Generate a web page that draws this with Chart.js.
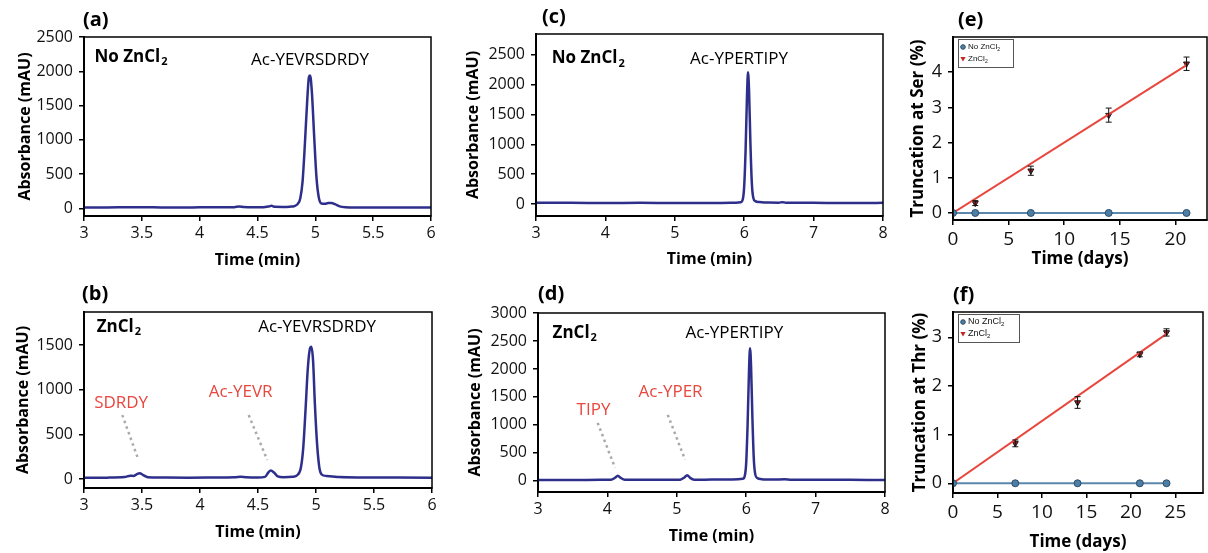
<!DOCTYPE html>
<html>
<head>
<meta charset="utf-8">
<script src="https://cdn.jsdelivr.net/npm/chart.js@4.4.1/dist/chart.umd.min.js"></script>
<style>
  body { margin: 0; background: #fff; width: 1208px; height: 553px; position: relative; overflow: hidden; }
  canvas { position: absolute; }
</style>
</head>
<body>
<canvas id="pa" width="440" height="275" style="left:0;top:0"></canvas>
<canvas id="pb" width="440" height="273" style="left:0;top:280px"></canvas>
<canvas id="pc" width="450" height="275" style="left:440px;top:0"></canvas>
<canvas id="pd" width="450" height="273" style="left:440px;top:280px"></canvas>
<canvas id="pe" width="322" height="275" style="left:890px;top:0"></canvas>
<canvas id="pf" width="318" height="273" style="left:890px;top:280px"></canvas>
<script>
// ---- (a) Ac-YEVRSDRDY, no ZnCl2 ----
const timeA = [3.00, 3.20, 3.40, 3.60, 3.80, 4.00, 4.20, 4.30, 4.34, 4.38, 4.45, 4.55, 4.60, 4.62, 4.65, 4.72, 4.78, 4.82, 4.85, 4.87,
  4.89, 4.91, 4.93, 4.945, 4.955, 4.97, 4.99, 5.01, 5.03, 5.05, 5.08, 5.11, 5.14, 5.17, 5.21, 5.26, 5.35, 5.50, 5.70, 6.00];
const absA = [15, 15, 17, 16, 15, 16, 17, 19, 28, 22, 18, 18, 30, 38, 24, 22, 26, 35, 70, 150,
  400, 950, 1580, 1920, 1940, 1700, 1050, 450, 160, 75, 68, 78, 80, 62, 30, 18, 15, 15, 14, 14];

// ---- (b) Ac-YEVRSDRDY, ZnCl2 ----
const timeB = [3.00, 3.20, 3.35, 3.40, 3.43, 3.46, 3.48, 3.51, 3.55, 3.65, 3.90, 4.10, 4.30, 4.35, 4.40, 4.50, 4.56, 4.59, 4.61, 4.64,
  4.67, 4.72, 4.80, 4.84, 4.87, 4.89, 4.91, 4.93, 4.95, 4.96, 4.975, 4.99, 5.01, 5.03, 5.05, 5.09, 5.14, 5.20, 5.40, 5.70, 6.00];
const absB = [15, 16, 22, 38, 35, 58, 65, 45, 20, 17, 16, 17, 20, 26, 20, 18, 25, 75, 95, 70,
  30, 20, 25, 45, 130, 350, 780, 1250, 1470, 1480, 1320, 850, 380, 120, 50, 35, 30, 22, 18, 17, 16];

// ---- (c) Ac-YPERTIPY, no ZnCl2 ----
const timeC = [3.00, 3.50, 4.00, 4.50, 5.00, 5.50, 5.80, 5.95, 5.98, 6.00, 6.02, 6.04, 6.055, 6.07, 6.09, 6.11, 6.13, 6.16, 6.22, 6.35,
  6.50, 6.55, 6.60, 7.00, 7.50, 8.00];
const absC = [20, 20, 18, 20, 18, 19, 20, 30, 80, 300, 900, 1800, 2210, 1900, 1000, 350, 110, 50, 35, 25,
  24, 32, 24, 20, 19, 20];

// ---- (d) Ac-YPERTIPY, ZnCl2 ----
const timeD = [3.00, 3.50, 3.90, 4.05, 4.11, 4.15, 4.19, 4.25, 4.50, 4.80, 5.05, 5.11, 5.15, 5.19, 5.25, 5.50, 5.80, 5.95, 5.98, 6.00,
  6.02, 6.04, 6.055, 6.07, 6.09, 6.11, 6.13, 6.16, 6.22, 6.40, 6.55, 6.65, 7.00, 7.50, 8.00];
const absD = [15, 16, 17, 20, 55, 92, 55, 20, 17, 18, 20, 60, 100, 55, 20, 22, 25, 35, 90, 320,
  1000, 1950, 2370, 2050, 1100, 380, 120, 50, 30, 22, 28, 20, 18, 17, 16];

// dotted leader lines from fragment labels to their peaks: [x0, y0, x1, y1]
const leaderSDRDY = [3.33, 716, 3.47, 213];
const leaderYEVR = [4.42, 716, 4.58, 213];
const leaderTIPY = [3.86, 1036, 4.11, 232];
const leaderYPER = [4.87, 1179, 5.12, 375];

// ---- (e) truncation at Ser ----
const daysE = [0, 2, 7, 14, 21];
const serNoZn = [0, 0, 0, 0, 0];
const serZn = [0, 0.28, 1.2, 2.78, 4.24];
const serZnErr = [0, 0.07, 0.13, 0.2, 0.19];
const serFitX = [0, 21];
const serFitY = [0, 4.2];

// ---- (f) truncation at Thr ----
const daysF = [0, 7, 14, 21, 24];
const thrNoZn = [0, 0, 0, 0, 0];
const thrZn = [0, 0.82, 1.66, 2.65, 3.1];
const thrZnErr = [0, 0.07, 0.12, 0.05, 0.075];
const thrFitX = [0, 24];
const thrFitY = [0, 3.07];

// tick labels
const ticksTimeAB = [3, 3.5, 4, 4.5, 5, 5.5, 6];
const ticksTimeCD = [3, 4, 5, 6, 7, 8];
const ticksAbsA = [0, 500, 1000, 1500, 2000, 2500];
const ticksAbsB = [0, 500, 1000, 1500];
const ticksAbsC = [0, 500, 1000, 1500, 2000, 2500];
const ticksAbsD = [0, 500, 1000, 1500, 2000, 2500, 3000];
const ticksDaysE = [0, 5, 10, 15, 20];
const ticksDaysF = [0, 5, 10, 15, 20, 25];
const ticksSer = [0, 1, 2, 3, 4];
const ticksThr = [0, 1, 2, 3];

const FONT = "'Open Sans', 'Noto Sans', sans-serif";
const TRACE = '#2e2f8a';
const RED = '#e8473e';

const pts = (xs, ys) => xs.map((x, i) => ({ x: x, y: ys[i] }));
const seg = (s) => [{ x: s[0], y: s[1] }, { x: s[2], y: s[3] }];

const frame = {
  id: 'frame',
  afterDraw(chart) {
    const { ctx, chartArea: a } = chart;
    ctx.save();
    ctx.strokeStyle = '#000';
    ctx.lineWidth = 1.5;
    ctx.strokeRect(a.left, a.top, a.right - a.left, a.bottom - a.top);
    ctx.restore();
  }
};

// text labels, in data units (x, y) or canvas pixels (px, py)
function notes(items) {
  return {
    id: 'notes',
    afterDraw(chart) {
      const { ctx, scales } = chart;
      items.forEach(n => {
        const px = n.px !== undefined ? n.px : scales.x.getPixelForValue(n.x);
        const py = n.py !== undefined ? n.py : scales.y.getPixelForValue(n.y);
        ctx.save();
        ctx.textBaseline = 'middle';
        ctx.textAlign = 'left';
        ctx.fillStyle = n.color || '#000';
        ctx.font = n.font;
        const w = ctx.measureText(n.text).width;
        let sw = 0;
        if (n.sub) { ctx.font = n.subFont; sw = ctx.measureText(n.sub).width; ctx.font = n.font; }
        const left = n.align === 'center' ? px - (w + sw) / 2 : px;
        ctx.fillText(n.text, left, py);
        if (n.sub) { ctx.font = n.subFont; ctx.fillText(n.sub, left + w + 1, py + n.subDy); }
        ctx.restore();
      });
    }
  };
}

function errorBars(dsIndex, errs) {
  return {
    id: 'errorBars',
    afterDatasetsDraw(chart) {
      const { ctx, scales: { x, y } } = chart;
      const data = chart.data.datasets[dsIndex].data;
      ctx.save();
      ctx.strokeStyle = '#111';
      ctx.lineWidth = 1;
      data.forEach((p, i) => {
        if (!errs[i]) return;
        const px = x.getPixelForValue(p.x);
        const y0 = y.getPixelForValue(p.y - errs[i]);
        const y1 = y.getPixelForValue(p.y + errs[i]);
        ctx.beginPath();
        ctx.moveTo(px, y0); ctx.lineTo(px, y1);
        ctx.moveTo(px - 3, y0); ctx.lineTo(px + 3, y0);
        ctx.moveTo(px - 3, y1); ctx.lineTo(px + 3, y1);
        ctx.stroke();
      });
      ctx.restore();
    }
  };
}

function miniLegend(w, fontPx) {
  return {
    id: 'miniLegend',
    afterDraw(chart) {
      const { ctx, chartArea: a } = chart;
      const bx = a.left + 5, by = a.top + 2, h = 28;
      ctx.save();
      ctx.fillStyle = '#fff';
      ctx.fillRect(bx, by, w, h);
      ctx.strokeStyle = '#555';
      ctx.lineWidth = 1;
      ctx.strokeRect(bx + 0.5, by + 0.5, w, h);
      ctx.textBaseline = 'middle';
      const f = fontPx + "px 'Liberation Sans', Arial, sans-serif";
      const sf = Math.round(fontPx * 0.65) + "px 'Liberation Sans', Arial, sans-serif";
      const rows = [
        { t: 'No ZnCl', y: by + 8, mark: 'c' },
        { t: 'ZnCl', y: by + 20, mark: 't' }
      ];
      rows.forEach(r => {
        const mx = bx + 5;
        ctx.beginPath();
        if (r.mark === 'c') {
          ctx.arc(mx, r.y, 2.3, 0, Math.PI * 2);
          ctx.fillStyle = '#4d7fa6';
          ctx.fill();
          ctx.strokeStyle = '#2c4d68';
          ctx.stroke();
        } else {
          ctx.moveTo(mx - 2.6, r.y - 2); ctx.lineTo(mx + 2.6, r.y - 2); ctx.lineTo(mx, r.y + 2.5); ctx.closePath();
          ctx.fillStyle = '#c0281f';
          ctx.fill();
        }
        ctx.fillStyle = '#111';
        ctx.font = f;
        ctx.fillText(r.t, mx + 5, r.y);
        const tw = ctx.measureText(r.t).width;
        ctx.font = sf;
        ctx.fillText('2', mx + 5 + tw, r.y + 2.5);
      });
      ctx.restore();
    }
  };
}

function panel(id, p) {
  const el = document.getElementById(id);
  const W = el.width, H = el.height;
  const [aL, aT, aR, aB] = p.area;
  new Chart(el, {
    type: 'line',
    data: { datasets: p.datasets },
    options: {
      responsive: false,
      animation: false,
      events: [],
      layout: { padding: { left: 0, top: aT, right: W - aR, bottom: 0 } },
      scales: {
        x: {
          type: 'linear',
          min: p.xMin, max: p.xMax,
          afterBuildTicks: s => { s.ticks = p.xTicks.map(v => ({ value: v })); },
          afterFit: s => { s.height = H - aB; s.paddingLeft = 0; s.paddingRight = 0; },
          ticks: { color: '#111', font: { family: FONT, size: p.xTickSize || 16 }, padding: 3, maxRotation: 0, autoSkip: false, callback: v => String(v) },
          grid: { drawOnChartArea: false, drawTicks: true, tickLength: 5, color: '#000', lineWidth: 1.5 },
          border: { color: '#000', width: 2 },
          title: { display: true, text: p.xTitle, color: '#000', font: { family: FONT, size: p.titleSize || 16, weight: 'bold' }, padding: { top: 0, bottom: p.xTitlePad } }
        },
        y: {
          type: 'linear',
          min: p.yMin, max: p.yMax,
          afterBuildTicks: s => { s.ticks = p.yTicks.map(v => ({ value: v })); },
          afterFit: s => { s.width = aL; s.paddingTop = 0; s.paddingBottom = 0; },
          ticks: { color: '#111', font: { family: FONT, size: p.yTickSize || 16 }, padding: 6, callback: v => String(v) },
          grid: { drawOnChartArea: false, drawTicks: true, tickLength: 5, color: '#000', lineWidth: 1.5 },
          border: { color: '#000', width: 2 },
          title: { display: true, text: p.yTitle, color: '#000', font: { family: FONT, size: p.titleSize || 16, weight: 'bold' }, padding: { top: p.yTitlePad, bottom: 0 } }
        }
      },
      plugins: { legend: { display: false }, tooltip: { enabled: false } }
    },
    plugins: [frame, notes(p.notes)].concat(p.extra || [])
  });
}

const traceSet = (xs, ys) => ({
  data: pts(xs, ys), borderColor: TRACE, borderWidth: 2.5, pointRadius: 0,
  cubicInterpolationMode: 'monotone', fill: false
});
const leaderSet = (s) => ({
  data: seg(s), borderColor: '#a9a9a9', borderWidth: 2.5, borderDash: [2.5, 3.5], pointRadius: 0, fill: false
});

const boldLbl = "bold 17px " + FONT;
const boldSub = "bold 11px " + FONT;
const pepLbl = "17px " + FONT;
const panelLbl = "bold 20px " + FONT;

panel('pa', {
  area: [84, 37, 431, 216], xMin: 3, xMax: 6, yMin: -110, yMax: 2500,
  xTicks: ticksTimeAB, yTicks: ticksAbsA,
  xTitle: 'Time (min)', yTitle: 'Absorbance (mAU)', xTitlePad: 5, yTitlePad: 16,
  datasets: [traceSet(timeA, absA)],
  notes: [
    { px: 83, py: 20, text: '(a)', font: panelLbl },
    { x: 3.09, y: 2208, text: 'No ZnCl', sub: '2', font: boldLbl, subFont: boldSub, subDy: 5 },
    { x: 4.954, y: 2165, text: 'Ac-YEVRSDRDY', font: pepLbl, align: 'center' }
  ]
});

panel('pb', {
  area: [84, 32, 432, 208], xMin: 3, xMax: 6, yMin: -100, yMax: 1870,
  xTicks: ticksTimeAB, yTicks: ticksAbsB,
  xTitle: 'Time (min)', yTitle: 'Absorbance (mAU)', xTitlePad: 11, yTitlePad: 14,
  datasets: [leaderSet(leaderSDRDY), leaderSet(leaderYEVR), traceSet(timeB, absB)],
  notes: [
    { px: 82, py: 14, text: '(b)', font: panelLbl },
    { x: 3.11, y: 1700, text: 'ZnCl', sub: '2', font: boldLbl, subFont: boldSub, subDy: 5 },
    { x: 5.01, y: 1700, text: 'Ac-YEVRSDRDY', font: pepLbl, align: 'center' },
    { x: 3.32, y: 850, text: 'SDRDY', font: pepLbl, align: 'center', color: RED },
    { x: 4.35, y: 973, text: 'Ac-YEVR', font: pepLbl, align: 'center', color: RED }
  ]
});

panel('pc', {
  area: [96, 34, 443, 216], xMin: 3, xMax: 8, yMin: -200, yMax: 2850,
  xTicks: ticksTimeCD, yTicks: ticksAbsC,
  xTitle: 'Time (min)', yTitle: 'Absorbance (mAU)', xTitlePad: 6, yTitlePad: 24,
  datasets: [traceSet(timeC, absC)],
  notes: [
    { px: 102, py: 17, text: '(c)', font: panelLbl },
    { x: 3.226, y: 2441, text: 'No ZnCl', sub: '2', font: boldLbl, subFont: boldSub, subDy: 5 },
    { x: 5.925, y: 2424, text: 'Ac-YPERTIPY', font: pepLbl, align: 'center' }
  ]
});

panel('pd', {
  area: [98, 33, 445, 212], xMin: 3, xMax: 8, yMin: -200, yMax: 3000,
  xTicks: ticksTimeCD, yTicks: ticksAbsD,
  xTitle: 'Time (min)', yTitle: 'Absorbance (mAU)', xTitlePad: 7, yTitlePad: 26,
  datasets: [leaderSet(leaderTIPY), leaderSet(leaderYPER), traceSet(timeD, absD)],
  notes: [
    { px: 98, py: 14, text: '(d)', font: panelLbl },
    { x: 3.21, y: 2643, text: 'ZnCl', sub: '2', font: boldLbl, subFont: boldSub, subDy: 5 },
    { x: 5.83, y: 2643, text: 'Ac-YPERTIPY', font: pepLbl, align: 'center' },
    { x: 3.80, y: 1268, text: 'TIPY', font: pepLbl, align: 'center', color: RED },
    { x: 4.91, y: 1589, text: 'Ac-YPER', font: pepLbl, align: 'center', color: RED }
  ]
});

const noZnSet = (xs, ys) => ({
  data: pts(xs, ys), borderColor: '#5a87ab', borderWidth: 2, pointRadius: 3.5,
  pointBackgroundColor: '#4d7fa6', pointBorderColor: '#2c4d68', pointBorderWidth: 1, fill: false
});
const fitSet = (xs, ys) => ({ data: pts(xs, ys), borderColor: RED, borderWidth: 2, pointRadius: 0, fill: false });
const znSet = (xs, ys) => ({
  data: pts(xs, ys), showLine: false, pointStyle: 'triangle', pointRotation: 180, pointRadius: 3.5,
  pointBackgroundColor: '#a81d1d', pointBorderColor: '#1a1a1a', pointBorderWidth: 1
});

panel('pe', {
  area: [63, 37, 320, 220], xMin: 0, xMax: 22.84, yMin: -0.2, yMax: 5.0,
  xTicks: ticksDaysE, yTicks: ticksSer, xTickSize: 19, yTickSize: 18, titleSize: 17,
  xTitle: 'Time (days)', yTitle: 'Truncation at Ser (%)', xTitlePad: 6, yTitlePad: 18,
  datasets: [noZnSet(daysE, serNoZn), fitSet(serFitX, serFitY), znSet(daysE, serZn)],
  extra: [errorBars(2, serZnErr), miniLegend(55, 8)],
  notes: [
    { px: 68, py: 20, text: '(e)', font: panelLbl }
  ]
});

panel('pf', {
  area: [63, 32, 317, 213], xMin: 0, xMax: 28.1, yMin: -0.2, yMax: 3.52,
  xTicks: ticksDaysF, yTicks: ticksThr, xTickSize: 19, yTickSize: 18, titleSize: 17,
  xTitle: 'Time (days)', yTitle: 'Truncation at Thr (%)', xTitlePad: 1, yTitlePad: 20,
  datasets: [noZnSet(daysF, thrNoZn), fitSet(thrFitX, thrFitY), znSet(daysF, thrZn)],
  extra: [errorBars(2, thrZnErr), miniLegend(61, 9)],
  notes: [
    { px: 63, py: 15, text: '(f)', font: panelLbl }
  ]
});
</script>
</body>
</html>
